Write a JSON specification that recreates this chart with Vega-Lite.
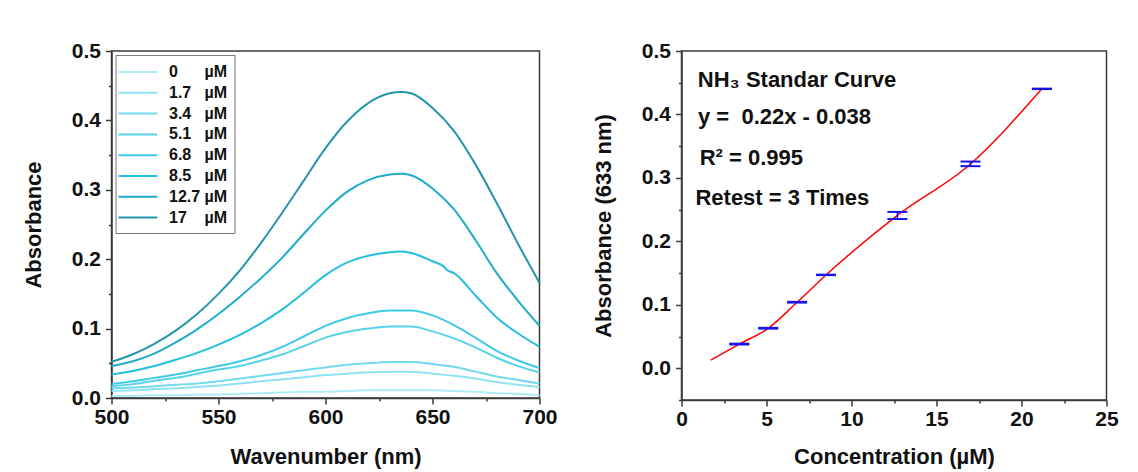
{
  "$schema": "https://vega.github.io/schema/vega-lite/v6.json",
  "background": "white",
  "padding": {"left": 21.5, "top": 39, "right": 5, "bottom": 5},
  "spacing": 33,
  "config": {
    "font": "Liberation Sans",
    "view": {"stroke": "#3a3a3a", "strokeWidth": 1.5},
    "axis": {
      "labelFont": "Liberation Sans", "labelFontWeight": "bold", "labelFontSize": 21, "labelColor": "#111111",
      "titleFont": "Liberation Sans", "titleFontWeight": "bold", "titleFontSize": 22, "titleColor": "#111111",
      "domainColor": "#3a3a3a", "domainWidth": 1.5, "tickColor": "#3a3a3a", "tickWidth": 1.5,
      "grid": false, "labelOverlap": false, "labelFlush": false
    }
  },
  "datasets": {
    "spectra": [
      {"wavelength": 500, "absorbance": 0.003, "conc": "0"}, {"wavelength": 510, "absorbance": 0.003, "conc": "0"}, {"wavelength": 520, "absorbance": 0.004, "conc": "0"}, {"wavelength": 530, "absorbance": 0.004, "conc": "0"}, {"wavelength": 540, "absorbance": 0.005, "conc": "0"}, {"wavelength": 550, "absorbance": 0.005, "conc": "0"}, {"wavelength": 560, "absorbance": 0.006, "conc": "0"}, {"wavelength": 570, "absorbance": 0.007, "conc": "0"}, {"wavelength": 580, "absorbance": 0.008, "conc": "0"}, {"wavelength": 590, "absorbance": 0.009, "conc": "0"}, {"wavelength": 600, "absorbance": 0.009, "conc": "0"}, {"wavelength": 610, "absorbance": 0.010, "conc": "0"}, {"wavelength": 620, "absorbance": 0.011, "conc": "0"}, {"wavelength": 630, "absorbance": 0.011, "conc": "0"}, {"wavelength": 640, "absorbance": 0.011, "conc": "0"}, {"wavelength": 650, "absorbance": 0.011, "conc": "0"}, {"wavelength": 660, "absorbance": 0.010, "conc": "0"}, {"wavelength": 670, "absorbance": 0.009, "conc": "0"}, {"wavelength": 680, "absorbance": 0.007, "conc": "0"}, {"wavelength": 690, "absorbance": 0.006, "conc": "0"}, {"wavelength": 700, "absorbance": 0.004, "conc": "0"},

      {"wavelength": 500, "absorbance": 0.010, "conc": "1.7"}, {"wavelength": 510, "absorbance": 0.011, "conc": "1.7"}, {"wavelength": 520, "absorbance": 0.013, "conc": "1.7"}, {"wavelength": 530, "absorbance": 0.014, "conc": "1.7"}, {"wavelength": 540, "absorbance": 0.016, "conc": "1.7"}, {"wavelength": 550, "absorbance": 0.018, "conc": "1.7"}, {"wavelength": 560, "absorbance": 0.021, "conc": "1.7"}, {"wavelength": 570, "absorbance": 0.024, "conc": "1.7"}, {"wavelength": 580, "absorbance": 0.027, "conc": "1.7"}, {"wavelength": 590, "absorbance": 0.030, "conc": "1.7"}, {"wavelength": 600, "absorbance": 0.033, "conc": "1.7"}, {"wavelength": 610, "absorbance": 0.035, "conc": "1.7"}, {"wavelength": 620, "absorbance": 0.037, "conc": "1.7"}, {"wavelength": 630, "absorbance": 0.038, "conc": "1.7"}, {"wavelength": 640, "absorbance": 0.038, "conc": "1.7"}, {"wavelength": 650, "absorbance": 0.035, "conc": "1.7"}, {"wavelength": 660, "absorbance": 0.032, "conc": "1.7"}, {"wavelength": 670, "absorbance": 0.028, "conc": "1.7"}, {"wavelength": 680, "absorbance": 0.023, "conc": "1.7"}, {"wavelength": 690, "absorbance": 0.019, "conc": "1.7"}, {"wavelength": 700, "absorbance": 0.016, "conc": "1.7"},

      {"wavelength": 500, "absorbance": 0.014, "conc": "3.4"}, {"wavelength": 510, "absorbance": 0.015, "conc": "3.4"}, {"wavelength": 520, "absorbance": 0.017, "conc": "3.4"}, {"wavelength": 530, "absorbance": 0.019, "conc": "3.4"}, {"wavelength": 540, "absorbance": 0.021, "conc": "3.4"}, {"wavelength": 550, "absorbance": 0.024, "conc": "3.4"}, {"wavelength": 560, "absorbance": 0.028, "conc": "3.4"}, {"wavelength": 570, "absorbance": 0.032, "conc": "3.4"}, {"wavelength": 580, "absorbance": 0.036, "conc": "3.4"}, {"wavelength": 590, "absorbance": 0.040, "conc": "3.4"}, {"wavelength": 600, "absorbance": 0.044, "conc": "3.4"}, {"wavelength": 610, "absorbance": 0.048, "conc": "3.4"}, {"wavelength": 620, "absorbance": 0.050, "conc": "3.4"}, {"wavelength": 630, "absorbance": 0.052, "conc": "3.4"}, {"wavelength": 640, "absorbance": 0.052, "conc": "3.4"}, {"wavelength": 650, "absorbance": 0.049, "conc": "3.4"}, {"wavelength": 660, "absorbance": 0.045, "conc": "3.4"}, {"wavelength": 670, "absorbance": 0.038, "conc": "3.4"}, {"wavelength": 680, "absorbance": 0.031, "conc": "3.4"}, {"wavelength": 690, "absorbance": 0.026, "conc": "3.4"}, {"wavelength": 700, "absorbance": 0.021, "conc": "3.4"},

      {"wavelength": 500, "absorbance": 0.017, "conc": "5.1"}, {"wavelength": 510, "absorbance": 0.020, "conc": "5.1"}, {"wavelength": 520, "absorbance": 0.025, "conc": "5.1"}, {"wavelength": 530, "absorbance": 0.029, "conc": "5.1"}, {"wavelength": 540, "absorbance": 0.035, "conc": "5.1"}, {"wavelength": 550, "absorbance": 0.041, "conc": "5.1"}, {"wavelength": 560, "absorbance": 0.046, "conc": "5.1"}, {"wavelength": 570, "absorbance": 0.054, "conc": "5.1"}, {"wavelength": 580, "absorbance": 0.063, "conc": "5.1"}, {"wavelength": 590, "absorbance": 0.075, "conc": "5.1"}, {"wavelength": 600, "absorbance": 0.087, "conc": "5.1"}, {"wavelength": 610, "absorbance": 0.095, "conc": "5.1"}, {"wavelength": 620, "absorbance": 0.100, "conc": "5.1"}, {"wavelength": 630, "absorbance": 0.103, "conc": "5.1"}, {"wavelength": 640, "absorbance": 0.103, "conc": "5.1"}, {"wavelength": 650, "absorbance": 0.096, "conc": "5.1"}, {"wavelength": 660, "absorbance": 0.086, "conc": "5.1"}, {"wavelength": 670, "absorbance": 0.073, "conc": "5.1"}, {"wavelength": 680, "absorbance": 0.058, "conc": "5.1"}, {"wavelength": 690, "absorbance": 0.046, "conc": "5.1"}, {"wavelength": 700, "absorbance": 0.037, "conc": "5.1"},

      {"wavelength": 500, "absorbance": 0.020, "conc": "6.8"}, {"wavelength": 510, "absorbance": 0.024, "conc": "6.8"}, {"wavelength": 520, "absorbance": 0.029, "conc": "6.8"}, {"wavelength": 530, "absorbance": 0.034, "conc": "6.8"}, {"wavelength": 540, "absorbance": 0.040, "conc": "6.8"}, {"wavelength": 550, "absorbance": 0.046, "conc": "6.8"}, {"wavelength": 560, "absorbance": 0.053, "conc": "6.8"}, {"wavelength": 570, "absorbance": 0.062, "conc": "6.8"}, {"wavelength": 580, "absorbance": 0.074, "conc": "6.8"}, {"wavelength": 590, "absorbance": 0.089, "conc": "6.8"}, {"wavelength": 600, "absorbance": 0.104, "conc": "6.8"}, {"wavelength": 610, "absorbance": 0.115, "conc": "6.8"}, {"wavelength": 620, "absorbance": 0.122, "conc": "6.8"}, {"wavelength": 630, "absorbance": 0.126, "conc": "6.8"}, {"wavelength": 640, "absorbance": 0.126, "conc": "6.8"}, {"wavelength": 650, "absorbance": 0.119, "conc": "6.8"}, {"wavelength": 660, "absorbance": 0.105, "conc": "6.8"}, {"wavelength": 670, "absorbance": 0.087, "conc": "6.8"}, {"wavelength": 680, "absorbance": 0.068, "conc": "6.8"}, {"wavelength": 690, "absorbance": 0.054, "conc": "6.8"}, {"wavelength": 700, "absorbance": 0.043, "conc": "6.8"},

      {"wavelength": 500, "absorbance": 0.034, "conc": "8.5"}, {"wavelength": 510, "absorbance": 0.039, "conc": "8.5"}, {"wavelength": 520, "absorbance": 0.046, "conc": "8.5"}, {"wavelength": 530, "absorbance": 0.055, "conc": "8.5"}, {"wavelength": 540, "absorbance": 0.065, "conc": "8.5"}, {"wavelength": 550, "absorbance": 0.077, "conc": "8.5"}, {"wavelength": 560, "absorbance": 0.091, "conc": "8.5"}, {"wavelength": 570, "absorbance": 0.108, "conc": "8.5"}, {"wavelength": 580, "absorbance": 0.128, "conc": "8.5"}, {"wavelength": 590, "absorbance": 0.152, "conc": "8.5"}, {"wavelength": 600, "absorbance": 0.177, "conc": "8.5"}, {"wavelength": 610, "absorbance": 0.195, "conc": "8.5"}, {"wavelength": 620, "absorbance": 0.205, "conc": "8.5"}, {"wavelength": 630, "absorbance": 0.210, "conc": "8.5"}, {"wavelength": 635, "absorbance": 0.211, "conc": "8.5"}, {"wavelength": 640, "absorbance": 0.209, "conc": "8.5"}, {"wavelength": 650, "absorbance": 0.197, "conc": "8.5"}, {"wavelength": 655, "absorbance": 0.190, "conc": "8.5"}, {"wavelength": 657, "absorbance": 0.184, "conc": "8.5"}, {"wavelength": 660, "absorbance": 0.180, "conc": "8.5"}, {"wavelength": 670, "absorbance": 0.148, "conc": "8.5"}, {"wavelength": 680, "absorbance": 0.116, "conc": "8.5"}, {"wavelength": 690, "absorbance": 0.093, "conc": "8.5"}, {"wavelength": 700, "absorbance": 0.074, "conc": "8.5"},

      {"wavelength": 500, "absorbance": 0.046, "conc": "12.7"}, {"wavelength": 510, "absorbance": 0.053, "conc": "12.7"}, {"wavelength": 520, "absorbance": 0.064, "conc": "12.7"}, {"wavelength": 530, "absorbance": 0.080, "conc": "12.7"}, {"wavelength": 540, "absorbance": 0.099, "conc": "12.7"}, {"wavelength": 550, "absorbance": 0.121, "conc": "12.7"}, {"wavelength": 560, "absorbance": 0.146, "conc": "12.7"}, {"wavelength": 570, "absorbance": 0.173, "conc": "12.7"}, {"wavelength": 580, "absorbance": 0.203, "conc": "12.7"}, {"wavelength": 590, "absorbance": 0.237, "conc": "12.7"}, {"wavelength": 600, "absorbance": 0.270, "conc": "12.7"}, {"wavelength": 610, "absorbance": 0.297, "conc": "12.7"}, {"wavelength": 620, "absorbance": 0.314, "conc": "12.7"}, {"wavelength": 630, "absorbance": 0.322, "conc": "12.7"}, {"wavelength": 635, "absorbance": 0.323, "conc": "12.7"}, {"wavelength": 640, "absorbance": 0.321, "conc": "12.7"}, {"wavelength": 650, "absorbance": 0.302, "conc": "12.7"}, {"wavelength": 660, "absorbance": 0.272, "conc": "12.7"}, {"wavelength": 670, "absorbance": 0.228, "conc": "12.7"}, {"wavelength": 680, "absorbance": 0.180, "conc": "12.7"}, {"wavelength": 690, "absorbance": 0.140, "conc": "12.7"}, {"wavelength": 700, "absorbance": 0.104, "conc": "12.7"},

      {"wavelength": 500, "absorbance": 0.052, "conc": "17"}, {"wavelength": 510, "absorbance": 0.063, "conc": "17"}, {"wavelength": 520, "absorbance": 0.078, "conc": "17"}, {"wavelength": 530, "absorbance": 0.097, "conc": "17"}, {"wavelength": 540, "absorbance": 0.121, "conc": "17"}, {"wavelength": 550, "absorbance": 0.150, "conc": "17"}, {"wavelength": 560, "absorbance": 0.184, "conc": "17"}, {"wavelength": 570, "absorbance": 0.224, "conc": "17"}, {"wavelength": 580, "absorbance": 0.268, "conc": "17"}, {"wavelength": 590, "absorbance": 0.314, "conc": "17"}, {"wavelength": 600, "absorbance": 0.360, "conc": "17"}, {"wavelength": 610, "absorbance": 0.398, "conc": "17"}, {"wavelength": 620, "absorbance": 0.425, "conc": "17"}, {"wavelength": 630, "absorbance": 0.439, "conc": "17"}, {"wavelength": 635, "absorbance": 0.441, "conc": "17"}, {"wavelength": 640, "absorbance": 0.439, "conc": "17"}, {"wavelength": 650, "absorbance": 0.418, "conc": "17"}, {"wavelength": 660, "absorbance": 0.385, "conc": "17"}, {"wavelength": 670, "absorbance": 0.337, "conc": "17"}, {"wavelength": 680, "absorbance": 0.281, "conc": "17"}, {"wavelength": 690, "absorbance": 0.222, "conc": "17"}, {"wavelength": 700, "absorbance": 0.166, "conc": "17"}
    ],
    "fit": [
      {"conc": 1.72, "abs": 0.0127},
      {"conc": 3.4, "abs": 0.038},
      {"conc": 5.1, "abs": 0.063},
      {"conc": 6.8, "abs": 0.104},
      {"conc": 8.5, "abs": 0.147},
      {"conc": 12.7, "abs": 0.241},
      {"conc": 17.0, "abs": 0.322},
      {"conc": 21.2, "abs": 0.4405}
    ],
    "bars": [
      {"conc": 3.4, "abs": 0.0375, "hi": 0.0388},
      {"conc": 5.1, "abs": 0.0625, "hi": 0.0637},
      {"conc": 6.8, "abs": 0.1035, "hi": 0.1047},
      {"conc": 8.5, "abs": 0.1468, "hi": 0.1475},
      {"conc": 12.7, "abs": 0.2352, "hi": 0.2464},
      {"conc": 17.0, "abs": 0.3185, "hi": 0.3258},
      {"conc": 21.2, "abs": 0.4400, "hi": 0.4407}
    ],
    "caps": [
      {"conc": 3.4, "abs": 0.0375}, {"conc": 3.4, "abs": 0.0388},
      {"conc": 5.1, "abs": 0.0625}, {"conc": 5.1, "abs": 0.0637},
      {"conc": 6.8, "abs": 0.1035}, {"conc": 6.8, "abs": 0.1047},
      {"conc": 8.5, "abs": 0.1468}, {"conc": 8.5, "abs": 0.1475},
      {"conc": 12.7, "abs": 0.2352}, {"conc": 12.7, "abs": 0.2464},
      {"conc": 17.0, "abs": 0.3185}, {"conc": 17.0, "abs": 0.3258},
      {"conc": 21.2, "abs": 0.4400}, {"conc": 21.2, "abs": 0.4407}
    ],
    "notes": [
      {"conc": 0.96, "abs": 0.4434, "text": "NH₃ Standar Curve"},
      {"conc": 0.97, "abs": 0.385, "text": "y = \u00a00.22x - 0.038"},
      {"conc": 1.07, "abs": 0.32, "text": "R² = 0.995"},
      {"conc": 0.82, "abs": 0.258, "text": "Retest = 3 Times"}
    ]
  },
  "hconcat": [
    {
      "width": 428,
      "height": 347,
      "data": {"name": "spectra"},
      "mark": {"type": "line", "strokeWidth": 2, "interpolate": "monotone"},
      "encoding": {
        "x": {
          "field": "wavelength", "type": "quantitative",
          "scale": {"domain": [500, 700], "nice": false, "zero": false},
          "axis": {
            "title": "Wavenumber (nm)",
            "values": [500, 525, 550, 575, 600, 625, 650, 675, 700],
            "labelExpr": "datum.value % 50 == 0 ? datum.label : ''",
            "tickSize": {"condition": {"test": "datum.value % 50 == 0", "value": 6}, "value": 3},
            "labelPadding": 2,
            "titlePadding": 19
          }
        },
        "y": {
          "field": "absorbance", "type": "quantitative",
          "scale": {"domain": [0, 0.5], "nice": false},
          "axis": {
            "title": "Absorbance",
            "values": [0, 0.05, 0.1, 0.15, 0.2, 0.25, 0.3, 0.35, 0.4, 0.45, 0.5],
            "format": ".1f",
            "labelExpr": "round(datum.value * 20) % 2 == 0 ? datum.label : ''",
            "tickSize": {"condition": {"test": "round(datum.value * 20) % 2 == 0", "value": 6}, "value": 3},
            "labelPadding": 5,
            "titlePadding": 26
          }
        },
        "color": {
          "field": "conc", "type": "nominal",
          "scale": {
            "domain": ["0", "1.7", "3.4", "5.1", "6.8", "8.5", "12.7", "17"],
            "range": ["#aeebf6", "#8fe2f2", "#72daee", "#56d2eb", "#3ecae7", "#22bfe0", "#1eaccb", "#2396ab"]
          },
          "legend": {
            "title": null,
            "orient": "top-left",
            "offset": 4,
            "strokeColor": "#777777",
            "fillColor": "white",
            "padding": 7,
            "symbolType": "M-1.55,0H2.75",
            "symbolSize": 324,
            "symbolStrokeWidth": 2,
            "labelFont": "Liberation Sans",
            "labelFontSize": 16,
            "labelFontWeight": "bold",
            "labelColor": "#111111",
            "labelOffset": 26.5,
            "rowPadding": 2.8,
            "labelExpr": "datum.label == '0' ? '0\u00a0\u00a0\u00a0\u00a0\u00a0 µM' : datum.label == '17' ? '17\u00a0\u00a0\u00a0 µM' : datum.label == '12.7' ? '12.7 µM' : datum.label + '\u00a0\u00a0 µM'"
          }
        }
      }
    },
    {
      "width": 425,
      "height": 349,
      "encoding": {
        "x": {
          "field": "conc", "type": "quantitative",
          "scale": {"domain": [0, 25], "nice": false},
          "axis": {
            "title": "Concentration (µM)",
            "values": [0, 2.5, 5, 7.5, 10, 12.5, 15, 17.5, 20, 22.5, 25],
            "labelExpr": "datum.value % 5 == 0 ? datum.label : ''",
            "tickSize": {"condition": {"test": "datum.value % 5 == 0", "value": 6}, "value": 3},
            "labelPadding": 2,
            "titlePadding": 17
          }
        },
        "y": {
          "field": "abs", "type": "quantitative",
          "scale": {"domain": [-0.05, 0.5], "nice": false, "zero": false},
          "axis": {
            "title": "Absorbance (633 nm)",
            "values": [-0.05, 0, 0.05, 0.1, 0.15, 0.2, 0.25, 0.3, 0.35, 0.4, 0.45, 0.5],
            "format": ".1f",
            "labelExpr": "abs(datum.value * 10 - round(datum.value * 10)) < 0.01 ? datum.label : ''",
            "tickSize": {"condition": {"test": "abs(datum.value * 10 - round(datum.value * 10)) < 0.01", "value": 6}, "value": 3},
            "labelPadding": 5,
            "titlePadding": 26
          }
        }
      },
      "layer": [
        {
          "data": {"name": "fit"},
          "mark": {"type": "line", "color": "#ff0000", "strokeWidth": 1.5, "interpolate": "monotone"}
        },
        {
          "data": {"name": "bars"},
          "mark": {"type": "rule", "color": "#1414e6", "strokeWidth": 1.5},
          "encoding": {"y2": {"field": "hi"}}
        },
        {
          "data": {"name": "caps"},
          "mark": {"type": "tick", "orient": "horizontal", "color": "#1414e6", "opacity": 1, "size": 20, "thickness": 2}
        },
        {
          "data": {"name": "notes"},
          "mark": {"type": "text", "align": "left", "baseline": "alphabetic", "font": "Liberation Sans", "fontSize": 22, "fontWeight": "bold", "color": "#111111"},
          "encoding": {"text": {"field": "text"}}
        }
      ]
    }
  ]
}
